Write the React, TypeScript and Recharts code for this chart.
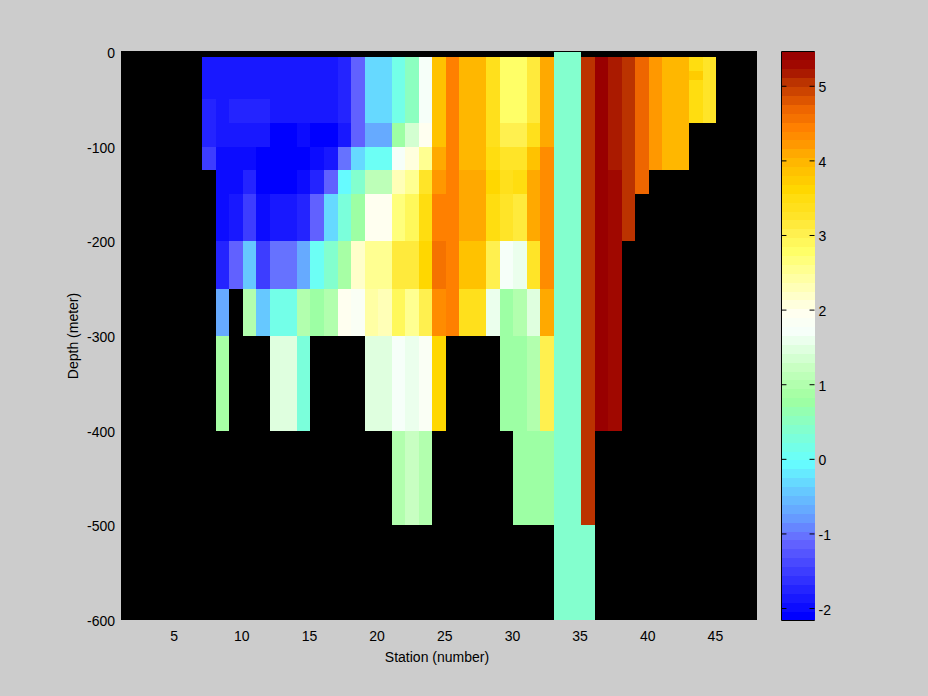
import React from "react";
import { Bar, BarChart, CartesianGrid, Cell, Label, ReferenceArea, ReferenceLine, XAxis, YAxis } from "recharts";

const _ = null;

// depth bands in metres, top to bottom
const depthEdges = [0, 5, 10, 20, 30, 50, 75, 100, 125, 150, 200, 250, 300, 400, 500, 600];

const stationIds = [7, 8, 9, 10, 11, 12, 13, 14, 15, 16, 17, 18, 19, 20, 21, 22, 23, 24, 25, 26, 27, 28, 29, 30, 31, 32, 33, 34, 35, 36, 37, 38, 39, 40, 41, 42, 43, 44];

// one list per station, one value per depth band
const temps = [
  [_, -1.88, -1.88, -1.88, -1.88, -1.7, -1.7, -1.55, _, _, _, _, _, _, _],
  [_, -1.88, -1.88, -1.88, -1.88, -1.88, -1.88, -2, -2, -2, -1.7, -0.72, 0.9, _, _],
  [_, -1.88, -1.88, -1.88, -1.88, -1.8, -1.88, -2, -2, -1.88, -1.1, _, _, _, _],
  [_, -1.88, -1.82, -1.82, -1.82, -1.8, -1.88, -1.95, -1.8, -1.5, -0.4, 1, _, _, _],
  [_, -1.88, -1.88, -1.88, -1.88, -1.8, -1.88, -2.15, -2.15, -2, -1.55, -0.47, _, _, _],
  [_, -1.88, -1.88, -1.88, -1.88, -1.88, -2.15, -2.15, -2.15, -1.88, -0.98, 0.15, 1.45, _, _],
  [_, -1.88, -1.88, -1.88, -1.88, -1.88, -2.15, -2.15, -2.15, -1.88, -0.98, 0.15, 1.45, _, _],
  [_, -1.88, -1.88, -1.88, -1.88, -1.88, -2, -2.15, -2, -1.8, -0.72, 1, 0.3, _, _],
  [_, -1.88, -1.88, -1.88, -1.88, -1.88, -2.15, -2, -1.8, -1.2, 0.08, 0.8, _, _, _],
  [_, -1.88, -1.88, -1.88, -1.88, -1.88, -2.15, -1.88, -1.1, -0.27, 0.45, 1, _, _, _],
  [_, -1.8, -1.8, -1.8, -1.8, -1.8, -1.88, -0.98, -0.05, 0.25, 0.9, 2, _, _, _],
  [_, -1.1, -1.1, -1.1, -1.1, -1.1, -1.1, -0.27, 0.35, 0.8, 2.15, 1.85, _, _, _],
  [_, -0.27, -0.27, -0.27, -0.27, -0.27, -0.65, 0.08, 1.15, 1.9, 2.6, 2.4, 1.45, _, _],
  [_, -0.27, -0.27, -0.27, -0.27, -0.27, -0.65, 0.08, 1.15, 1.9, 2.5, 2.3, 1.45, _, _],
  [_, 0.2, 0.2, 0.2, 0.2, 0.2, 0.7, 1.7, 2.35, 2.65, 3.15, 2.95, 1.75, 1, _],
  [_, 0.55, 0.55, 0.55, 0.55, 0.55, 1.3, 2.1, 2.6, 2.95, 3.15, 2.6, 1.6, 1.2, _],
  [_, 1.7, 1.7, 1.7, 1.7, 1.7, 1.9, 2.6, 3.25, 3.45, 3.6, 3, 1.85, 1.05, _],
  [_, 3.85, 3.85, 3.85, 3.85, 3.85, 3.85, 4.1, 4.25, 4.4, 4.6, 4.3, 3.6, _, _],
  [_, 4.4, 4.4, 4.4, 4.4, 4.4, 4.4, 4.4, 4.4, 4.4, 4.4, 4.4, _, _, _],
  [_, 3.95, 3.95, 3.95, 3.95, 3.95, 3.95, 3.95, 4.05, 4.05, 3.8, 3.35, _, _, _],
  [_, 3.95, 3.95, 3.95, 3.95, 3.95, 3.95, 3.95, 4.05, 4.05, 3.8, 3.35, _, _, _],
  [_, 3.35, 3.35, 3.35, 3.35, 3.35, 3.35, 3.45, 3.6, 3.45, 3.05, 1.55, _, _, _],
  [_, 2.75, 2.75, 2.75, 2.75, 2.75, 3, 3.3, 3.4, 3.3, 1.7, 0.8, 0.8, _, _],
  [_, 2.75, 2.75, 2.75, 2.75, 2.75, 3, 3.3, 3.45, 3.15, 1.55, 0.95, 0.8, 0.8, _],
  [_, 3.2, 3.2, 3.2, 3.2, 3.2, 3.35, 3.8, 4.05, 4.05, 3.3, 1.45, 1, 0.8, _],
  [_, 4.1, 4.1, 4.1, 4.1, 4.1, 4.15, 4.3, 4.35, 4.35, 4.35, 4.15, 3, 0.8, _],
  [0.35, 0.35, 0.35, 0.35, 0.35, 0.35, 0.35, 0.35, 0.35, 0.35, 0.35, 0.35, 0.35, 0.35, 0.35],
  [0.35, 0.35, 0.35, 0.35, 0.35, 0.35, 0.35, 0.35, 0.35, 0.35, 0.35, 0.35, 0.35, 0.35, 0.35],
  [_, 5.05, 5.05, 5.05, 5.05, 5.05, 5.05, 5.05, 5.05, 5.05, 5.05, 5.05, 5.05, 5.05, 0.35],
  [_, 5.4, 5.4, 5.4, 5.4, 5.4, 5.4, 5.4, 5.4, 5.4, 5.4, 5.4, 5.4, _, _],
  [_, 5.17, 5.17, 5.17, 5.17, 5.17, 5.17, 5.17, 5.29, 5.29, 5.29, 5.29, 5.29, _, _],
  [_, 5.05, 5.05, 5.05, 5.05, 5.05, 5.05, 5.05, 5.05, 5.05, _, _, _, _, _],
  [_, 4.7, 4.7, 4.7, 4.7, 4.7, 4.7, 4.7, 4.7, _, _, _, _, _, _],
  [_, 4.2, 4.2, 4.2, 4.2, 4.2, 4.2, 4.2, _, _, _, _, _, _, _],
  [_, 3.95, 3.95, 3.95, 3.95, 3.95, 3.95, 3.95, _, _, _, _, _, _, _],
  [_, 3.95, 3.95, 3.95, 3.95, 3.95, 3.95, 3.95, _, _, _, _, _, _, _],
  [_, 3.5, 3.5, 3.7, 3.5, 3.5, _, _, _, _, _, _, _, _, _],
  [_, 3.3, 3.3, 3.3, 3.3, 3.3, _, _, _, _, _, _, _, _, _],
];

const stationTicks = [5, 10, 15, 20, 25, 30, 35, 40, 45];
const depthTicks = [0, -100, -200, -300, -400, -500, -600];
const scaleTicks = [-2, -1, 0, 1, 2, 3, 4, 5];

const scaleMin = -2.16;
const scaleMax = 5.466;
const levels = 64;

// colour stops
const stops: [number, number[]][] = [
  [-2.1, [0, 0, 255]],
  [-1.1, [102, 102, 255]],
  [-0.8, [102, 153, 255]],
  [-0.4, [102, 204, 255]],
  [-0.05, [102, 255, 255]],
  [0.35, [127, 255, 212]],
  [0.8, [160, 255, 159]],
  [1.2, [196, 255, 190]],
  [1.7, [245, 255, 250]],
  [1.95, [255, 255, 240]],
  [2.5, [255, 255, 153]],
  [2.79, [255, 255, 102]],
  [3.02, [255, 240, 80]],
  [3.26, [255, 228, 40]],
  [3.5, [255, 221, 16]],
  [3.62, [255, 215, 0]],
  [3.74, [255, 204, 0]],
  [3.97, [255, 184, 0]],
  [4.09, [255, 170, 0]],
  [4.21, [255, 153, 0]],
  [4.33, [255, 140, 0]],
  [4.45, [255, 128, 0]],
  [4.57, [245, 114, 0]],
  [4.69, [238, 102, 0]],
  [4.81, [221, 85, 0]],
  [4.93, [204, 68, 0]],
  [5.05, [187, 51, 0]],
  [5.17, [170, 26, 0]],
  [5.29, [160, 8, 0]],
  [5.41, [153, 0, 0]],
];

const colorAt = (v: number) => {
  let i = 0;
  while (i < stops.length - 2 && v > stops[i + 1][0]) i++;
  const [a, ca] = stops[i];
  const [b, cb] = stops[i + 1];
  const t = Math.max(0, Math.min(1, (v - a) / (b - a)));
  const c = ca.map((x, k) => Math.round(x + (cb[k] - x) * t));
  return `rgb(${c[0]},${c[1]},${c[2]})`;
};

const step = (scaleMax - scaleMin) / levels;
const levelMid = (l: number) => scaleMin + (l + 0.5) * step;
const colorOf = (v: number | null) => {
  if (v === null) return "none";
  const l = Math.min(levels - 1, Math.max(0, Math.floor((v - scaleMin) / step)));
  return colorAt(levelMid(l));
};

const bands = depthEdges.slice(1).map((d, i) => d - depthEdges[i]);

const rows = stationIds.map((s) => {
  const row: Record<string, number> = { x: s + 0.5 };
  bands.forEach((b, i) => {
    row[`d${i}`] = -b;
  });
  return row;
});

const scaleRows = Array.from({ length: levels }, (_v, l) => ({ y: levelMid(l), w: 1, fill: colorAt(levelMid(l)) }));

const font = { fontFamily: "'Liberation Sans', Arial, sans-serif", fontSize: 14, fill: "#000" };

export default function App() {
  return (
    <div style={{ position: "fixed", left: 0, top: 0, width: 928, height: 696, background: "#cccccc", overflow: "hidden" }}>
      <div style={{ position: "absolute", left: 0, top: 0 }}>
        <BarChart
          width={928}
          height={696}
          data={rows}
          barSize={13.53}
          margin={{ left: 61, top: 52, right: 171, bottom: 46 }}
        >
          <CartesianGrid fill="#000" stroke="none" horizontal={false} vertical={false} />
          <XAxis
            dataKey="x"
            type="number"
            domain={[1, 48]}
            ticks={stationTicks}
            tickLine={false}
            axisLine={false}
            tick={{ ...font, dx: -1 }}
            tickSize={0}
            tickMargin={11}
            height={30}
            interval={0}
          >
            <Label value="Station (number)" position="insideBottom" offset={-12} dx={-2} style={font} />
          </XAxis>
          <YAxis
            type="number"
            domain={[-600, 0]}
            ticks={depthTicks}
            tickLine={false}
            axisLine={false}
            tick={{ ...font, dy: 1 }}
            tickSize={0}
            tickMargin={6}
            width={60}
            interval={0}
          >
            <Label value="Depth (meter)" angle={-90} position="insideLeft" offset={12} style={{ ...font, textAnchor: "middle" }} />
          </YAxis>
          {bands.map((_b, i) => (
            <Bar key={i} dataKey={`d${i}`} stackId="depth" isAnimationActive={false} shapeRendering="crispEdges">
              {temps.map((col, s) => (
                <Cell key={s} fill={colorOf(col[i])} />
              ))}
            </Bar>
          ))}
          <ReferenceArea y1={0} y2={1} fill="#000" fillOpacity={1} stroke="none" ifOverflow="visible" shapeRendering="crispEdges" />
        </BarChart>
      </div>
      <div style={{ position: "absolute", left: 760, top: 0 }}>
        <BarChart
          width={168}
          height={696}
          layout="vertical"
          data={scaleRows}
          barSize={8.885}
          margin={{ left: 21.5, top: 51.5, right: 73.5, bottom: 75.5 }}
        >
          <XAxis type="number" domain={[0, 1]} hide />
          <YAxis
            orientation="right"
            dataKey="y"
            type="number"
            reversed
            domain={[scaleMin, scaleMax]}
            ticks={scaleTicks}
            width={40}
            axisLine={false}
            tickLine={false}
            tickSize={0}
            tickMargin={4}
            tick={{ ...font, textAnchor: "start", dy: 1 }}
            interval={0}
          />
          <Bar dataKey="w" isAnimationActive={false} shapeRendering="crispEdges">
            {scaleRows.map((r, i) => (
              <Cell key={i} fill={r.fill} />
            ))}
          </Bar>
          <ReferenceArea x1={0} x2={1} y1={scaleMin} y2={scaleMax} fill="none" stroke="#000" strokeOpacity={1} />
          {scaleTicks.map((t) => (
            <ReferenceLine key={`l${t}`} segment={[{ x: 0, y: t }, { x: 0.15, y: t }]} stroke="#000" />
          ))}
          {scaleTicks.map((t) => (
            <ReferenceLine key={`r${t}`} segment={[{ x: 0.85, y: t }, { x: 1, y: t }]} stroke="#000" />
          ))}
        </BarChart>
      </div>
    </div>
  );
}
